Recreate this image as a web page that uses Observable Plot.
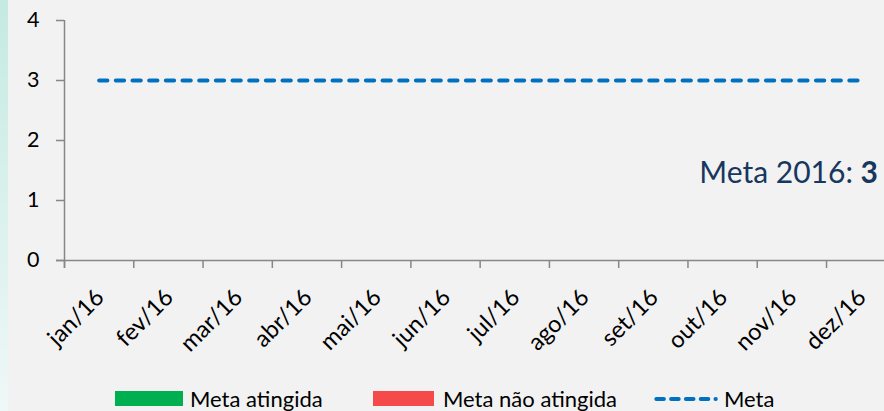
<!DOCTYPE html>
<html><head><meta charset="utf-8">
<script src="https://cdn.jsdelivr.net/npm/d3@7"></script>
<script src="https://cdn.jsdelivr.net/npm/@observablehq/plot@0.6"></script>
<style>
html,body{margin:0;padding:0;background:#f2f2f2;}
#wrap{position:relative;width:884px;height:411px;overflow:hidden;background:#f2f2f2;font-family:Lato,sans-serif;}
#strip{position:absolute;left:0;top:0;width:8px;height:411px;background:linear-gradient(#c4eae1,#eff8f6);}
#chart{position:absolute;left:0;top:0;width:896px;}
#chart svg{max-width:none !important;}
#legend{position:absolute;left:0;top:375px;}
</style>
</head><body>
<div id="wrap"><div id="strip"></div><div id="chart"></div><div id="legend"></div></div>
<script>
const months = ["jan/16","fev/16","mar/16","abr/16","mai/16","jun/16","jul/16","ago/16","set/16","out/16","nov/16","dez/16"];
const meta = [3,3,3,3,3,3,3,3,3,3,3,3];
const metaAtingida = [];
const metaNaoAtingida = [];
const yTicks = [0,1,2,3,4];
const boundaries = [0,1,2,3,4,5,6,7,8,9,10,11,12];
const metaLabel = "Meta 2016: ";
const metaValue = 3;
const legendItems = ["Meta atingida","Meta não atingida","Meta"];

const fontSize = 21.5;
const monthFont = 23.5;
const chart = Plot.plot({
  width: 896,
  height: 375,
  marginLeft: 64, marginRight: 0, marginTop: 20, marginBottom: 115,
  x: {type: "linear", domain: [0, 12], range: [64, 895.3]},
  y: {type: "linear", domain: [0, 4], range: [260, 20]},
  style: {fontFamily: "Lato, sans-serif", fontSize: fontSize + "px", background: "transparent", color: "black", overflow: "visible", maxWidth: "none"},
  marks: [
    Plot.axisY({ticks: yTicks, tickSize: 8, tickPadding: 17, stroke: "#878787", strokeWidth: 1.5, fill: "black", fontSize, tickFormat: d => d}),
    Plot.axisX({ticks: boundaries, tickSize: 8, tickFormat: () => "", stroke: "#878787", strokeWidth: 1.5}),
    Plot.ruleY([0], {stroke: "#878787", strokeWidth: 1.5, insetLeft: -8}),
    Plot.ruleX([0], {stroke: "#878787", strokeWidth: 1.5, insetBottom: -8}),
    Plot.rectY(metaAtingida, {x1: (d,i) => i + 0.2, x2: (d,i) => i + 0.8, y: d => d, fill: "#00b050"}),
    Plot.rectY(metaNaoAtingida, {x1: (d,i) => i + 0.2, x2: (d,i) => i + 0.8, y: d => d, fill: "#f44a4a"}),
    Plot.lineY(meta, {x: (d,i) => i + 0.5, y: d => d, stroke: "#0070c0", strokeWidth: 4, strokeDasharray: "8.3,8.37", strokeLinecap: "round"}),
    Plot.text(months, {x: (d,i) => i + 0.5, y: 0, text: d => d, rotate: -45, textAnchor: "end", lineAnchor: "middle", dx: 1, dy: 33, fontSize: monthFont, fill: "black"})
  ]
});
document.getElementById("chart").append(chart);

// annotation
const svg = d3.select(chart);
const ann = svg.append("text").attr("x", 878).attr("y", 182.7).attr("text-anchor", "end")
  .attr("fill", "#17375e").attr("font-size", 30).attr("font-family", "Lato, sans-serif");
ann.append("tspan").text(metaLabel);
ann.append("tspan").attr("font-weight", "bold").text(metaValue);

// legend
const lf = 22;
const lg = d3.select("#legend").append("svg").attr("width", 884).attr("height", 36);
const by = 406.7 - 375;
lg.append("rect").attr("x", 115).attr("y", 391 - 375).attr("width", 68).attr("height", 15).attr("fill", "#00b050");
lg.append("text").attr("x", 190).attr("y", by).attr("font-size", lf).attr("font-family", "Lato, sans-serif").text(legendItems[0]);
lg.append("rect").attr("x", 373).attr("y", 391 - 375).attr("width", 61).attr("height", 15).attr("fill", "#f44a4a");
lg.append("text").attr("x", 443).attr("y", by).attr("font-size", lf).attr("font-family", "Lato, sans-serif").text(legendItems[1]);
lg.append("line").attr("x1", 656.3).attr("x2", 715.8).attr("y1", 399 - 375).attr("y2", 399 - 375)
  .attr("stroke", "#0070c0").attr("stroke-width", 4).attr("stroke-dasharray", "7.6,7.2").attr("stroke-linecap", "round");
lg.append("text").attr("x", 724).attr("y", by).attr("font-size", lf).attr("font-family", "Lato, sans-serif").text(legendItems[2]);
</script>
</body></html>
